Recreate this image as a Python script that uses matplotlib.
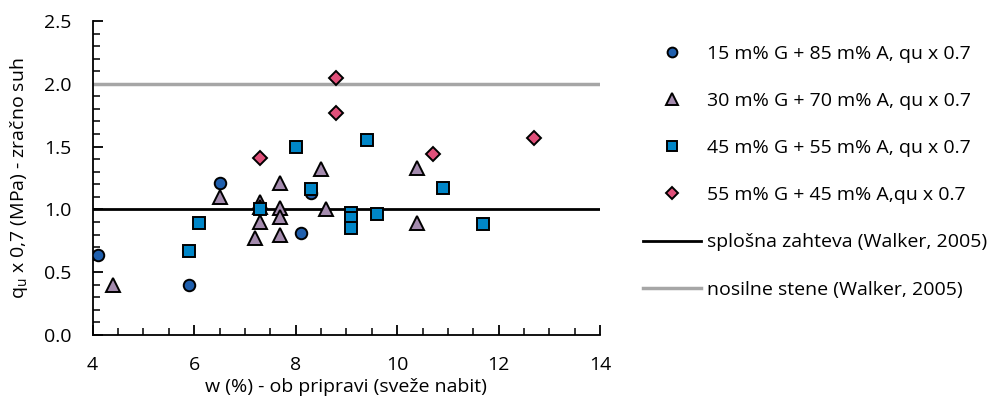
import matplotlib
matplotlib.use('Agg')
import matplotlib.pyplot as plt
from matplotlib.ticker import MultipleLocator

plt.rcParams['font.family'] = ['Open Sans', 'DejaVu Sans']

# podatki: 15 m% G + 85 m% A
w1 = [4.1, 5.9, 6.5, 8.1, 8.3]
q1 = [0.64, 0.40, 1.21, 0.81, 1.13]

# 30 m% G + 70 m% A
w2 = [4.4, 6.5, 7.3, 7.3, 7.3, 7.2, 7.7, 7.7, 7.7, 7.7, 8.5, 8.6, 10.4, 10.4]
q2 = [0.40, 1.10, 1.06, 1.02, 0.90, 0.77, 1.21, 1.01, 0.94, 0.80, 1.32, 1.00, 1.33, 0.89]

# 45 m% G + 55 m% A
w3 = [5.9, 6.1, 7.3, 8.0, 8.3, 9.4, 9.1, 9.1, 9.1, 9.6, 10.9, 11.7]
q3 = [0.67, 0.89, 1.00, 1.50, 1.16, 1.55, 0.97, 0.93, 0.85, 0.96, 1.17, 0.88]

# 55 m% G + 45 m% A
w4 = [7.3, 8.8, 8.8, 10.7, 12.7]
q4 = [1.41, 2.05, 1.77, 1.44, 1.57]

labels = ['15 m% G + 85 m% A, qu x 0.7',
          '30 m% G + 70 m% A, qu x 0.7',
          '45 m% G + 55 m% A, qu x 0.7',
          '55 m% G + 45 m% A,qu x 0.7']
zahteva = 1.0
nosilne = 2.0

fs = 14

fig = plt.figure(figsize=(10.07, 4.0), dpi=100)
ax = fig.add_axes([0.092, 0.1625, 0.504, 0.785])

# referenčni črti
ax.plot([4, 14], [zahteva, zahteva], color='black', lw=2, label='splošna zahteva (Walker, 2005)', zorder=2)
ax.plot([4, 14], [nosilne, nosilne], color='#A6A6A6', lw=2.5, label='nosilne stene (Walker, 2005)', zorder=2)

ax.plot(w1, q1, 'o', ms=8.3, mfc='#1F5FAD', mec='black', mew=1.4, ls='none', label=labels[0], zorder=3)
ax.plot(w2, q2, '^', ms=9.5, mfc='#A48BAE', mec='black', mew=1.4, ls='none', label=labels[1], zorder=3)
ax.plot(w3, q3, 's', ms=8.5, mfc='#0086C8', mec='black', mew=1.4, ls='none', label=labels[2], zorder=3)
ax.plot(w4, q4, 'D', ms=7.5, mfc='#E0507A', mec='black', mew=1.4, ls='none', label=labels[3], zorder=3)

ax.set_xlim(4, 14)
ax.set_ylim(0, 2.5)
ax.xaxis.set_major_locator(MultipleLocator(2))
ax.xaxis.set_minor_locator(MultipleLocator(0.5))
ax.yaxis.set_major_locator(MultipleLocator(0.5))
ax.yaxis.set_minor_locator(MultipleLocator(0.1))
ax.yaxis.set_major_formatter(plt.FormatStrFormatter('%.1f'))
ax.tick_params(which='major', direction='in', length=7, width=1.3, labelsize=fs)
ax.tick_params(axis='x', which='major', pad=15)
ax.tick_params(axis='y', which='major', pad=15)
ax.tick_params(which='minor', direction='in', length=5, width=1.1)
for s in ['top', 'right']:
    ax.spines[s].set_visible(False)
for s in ['left', 'bottom']:
    ax.spines[s].set_linewidth(1.3)

ax.set_xlabel('w (%) - ob pripravi (sveže nabit)', fontsize=fs, labelpad=3)
ax.set_ylabel('q$_\\mathregular{u}$ x 0,7 (MPa) - zračno suh', fontsize=fs, labelpad=10)

h, l = ax.get_legend_handles_labels()
order = [2, 3, 4, 5, 0, 1]
fig.legend([h[i] for i in order], [l[i] for i in order], loc='upper left',
           bbox_to_anchor=(633 / 1007, 1 - 35 / 400), frameon=False, fontsize=fs,
           handlelength=3.0, handletextpad=0.3, labelspacing=1.5, borderpad=0,
           markerscale=0.85)

fig.savefig('out.png', dpi=100)
